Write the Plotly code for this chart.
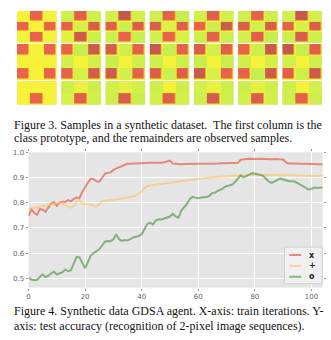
import plotly.graph_objects as go

W, H = 331, 340

# ---------------- accuracy curves ----------------
iterations = list(range(105))

acc_x = [
    0.747, 0.773, 0.760, 0.752, 0.775, 0.772, 0.764, 0.780, 0.797, 0.802,
    0.788, 0.800, 0.804, 0.803, 0.810, 0.805, 0.815, 0.820, 0.818, 0.842,
    0.862, 0.880, 0.895, 0.893, 0.885, 0.883, 0.898, 0.915, 0.918, 0.920,
    0.930, 0.935, 0.940, 0.945, 0.952, 0.955, 0.954, 0.955, 0.954, 0.955,
    0.955, 0.956, 0.957, 0.958, 0.958, 0.958, 0.957, 0.958, 0.960, 0.964,
    0.967, 0.955, 0.953, 0.953, 0.952, 0.953, 0.953, 0.953, 0.954, 0.954,
    0.954, 0.954, 0.955, 0.955, 0.955, 0.955, 0.955, 0.955, 0.956, 0.956,
    0.956, 0.956, 0.957, 0.957, 0.958, 0.970, 0.973, 0.973, 0.974, 0.973,
    0.973, 0.973, 0.974, 0.973, 0.973, 0.973, 0.972, 0.973, 0.972, 0.972,
    0.971, 0.960, 0.955, 0.955, 0.955, 0.955, 0.954, 0.955, 0.955, 0.954,
    0.954, 0.954, 0.953, 0.953, 0.952,
]

acc_plus = [
    0.775, 0.778, 0.782, 0.780, 0.785, 0.788, 0.786, 0.790, 0.795, 0.792,
    0.798, 0.800, 0.795, 0.790, 0.782, 0.780, 0.788, 0.805, 0.810, 0.798,
    0.794, 0.792, 0.793, 0.787, 0.784, 0.795, 0.806, 0.808, 0.810, 0.812,
    0.812, 0.813, 0.815, 0.814, 0.818, 0.820, 0.822, 0.825, 0.828, 0.835,
    0.845, 0.860, 0.866, 0.868, 0.870, 0.872, 0.874, 0.875, 0.876, 0.878,
    0.879, 0.880, 0.882, 0.885, 0.887, 0.889, 0.890, 0.890, 0.891, 0.892,
    0.894, 0.896, 0.898, 0.899, 0.900, 0.901, 0.902, 0.903, 0.904, 0.905,
    0.906, 0.906, 0.907, 0.907, 0.908, 0.908, 0.909, 0.909, 0.910, 0.910,
    0.910, 0.910, 0.911, 0.911, 0.910, 0.910, 0.911, 0.910, 0.910, 0.910,
    0.910, 0.910, 0.909, 0.909, 0.909, 0.908, 0.908, 0.908, 0.908, 0.907,
    0.907, 0.907, 0.906, 0.906, 0.906,
]

acc_o = [
    0.503, 0.495, 0.492, 0.494, 0.505, 0.515, 0.505, 0.510, 0.520, 0.526,
    0.515, 0.520, 0.524, 0.535, 0.528, 0.532, 0.560, 0.585, 0.583, 0.560,
    0.540, 0.565, 0.590, 0.600, 0.608, 0.615, 0.630, 0.645, 0.648, 0.647,
    0.655, 0.675, 0.655, 0.648, 0.652, 0.650, 0.655, 0.662, 0.665, 0.668,
    0.675, 0.695, 0.716, 0.720, 0.714, 0.730, 0.734, 0.733, 0.738, 0.742,
    0.745, 0.756, 0.745, 0.740, 0.768, 0.782, 0.795, 0.815, 0.823, 0.820,
    0.818, 0.820, 0.822, 0.822, 0.828, 0.838, 0.840, 0.848, 0.852, 0.860,
    0.866, 0.868, 0.872, 0.882, 0.895, 0.908, 0.900, 0.906, 0.914, 0.917,
    0.916, 0.914, 0.910, 0.905, 0.895, 0.883, 0.878, 0.885, 0.890, 0.896,
    0.892, 0.888, 0.886, 0.885, 0.884, 0.878, 0.872, 0.866, 0.860, 0.852,
    0.855, 0.860, 0.858, 0.860, 0.860,
]

series_names = ["x", "+", "o"]
series_colors = ["rgba(226,74,51,0.6)", "rgba(251,193,94,0.6)", "rgba(80,150,70,0.66)"]

x_ticks = [0, 20, 40, 60, 80, 100]
y_ticks = [0.5, 0.6, 0.7, 0.8, 0.9, 1.0]
y_tick_text = ["0.5", "0.6", "0.7", "0.8", "0.9", "1.0"]

# ---------------- synthetic image samples ----------------
# three frames per sample: 3x3, 3x3 and the visible top two rows of the last one
frame_rows = [3, 3, 2]
red_cells = [
    [(0, 1), (1, 0), (1, 2), (2, 1)],
    [(0, 0), (0, 2), (2, 0), (2, 2)],
    [(1, 1)],
]
# greenness of the background cells (0 = yellow, 9 = lime), 8 rows x 3 columns
tint = [
    ["000", "000", "101", "000", "000", "000", "000", "000"],
    ["707", "050", "307", "080", "606", "050", "727", "506"],
    ["606", "070", "708", "070", "807", "060", "636", "708"],
    ["708", "040", "605", "080", "707", "070", "707", "606"],
    ["606", "070", "707", "060", "808", "050", "627", "707"],
    ["707", "060", "608", "070", "706", "080", "737", "606"],
    ["606", "050", "707", "080", "607", "070", "706", "707"],
]
# shade of each red cell (0 = bright, 9 = dark), in frame order
red_tone = [
    "111111111",
    "325717263",
    "934162725",
    "253182433",
    "317243816",
    "254318274",
    "824593372",
]

sample_left, sample_step, sample_width = 15.0, 44.5, 40.0
frame_spans = [(7.0, 39.5), (40.5, 77.0), (78.0, 102.0)]


def px(x):
    return x / W


def py(y):
    return 1 - y / H


fig = go.Figure()
layout_axes = {}

axis_id = 2
for s in range(len(tint)):
    left = sample_left + s * sample_step
    row_start = 0
    red_index = 0
    for f, (top, bottom) in enumerate(frame_spans):
        n = frame_rows[f]
        bg = [[int(c) for c in row] for row in tint[s][row_start:row_start + n]]
        red = [[None] * 3 for _ in range(n)]
        for (r, c) in red_cells[f]:
            red[r][c] = int(red_tone[s][red_index])
            red_index += 1
        row_start += n
        xa, ya = f"x{axis_id}", f"y{axis_id}"
        fig.add_trace(go.Heatmap(
            z=bg, xaxis=xa, yaxis=ya, zmin=0, zmax=9, showscale=False,
            colorscale=[[0, "#f6f23a"], [1, "#c2ee50"]], hoverinfo="skip",
        ))
        fig.add_trace(go.Heatmap(
            z=red, xaxis=xa, yaxis=ya, zmin=0, zmax=9, showscale=False,
            colorscale=[[0, "#f0634a"], [1, "#c4584a"]], xgap=1.5, ygap=1.5,
            hoverinfo="skip",
        ))
        layout_axes[f"xaxis{axis_id}"] = dict(
            domain=[px(left), px(left + sample_width)], range=[-0.5, 2.5],
            visible=False, anchor=ya, fixedrange=True,
        )
        layout_axes[f"yaxis{axis_id}"] = dict(
            domain=[py(bottom), py(top)], range=[n - 0.5, -0.5],
            visible=False, anchor=xa, fixedrange=True,
        )
        axis_id += 1

# ---------------- accuracy chart ----------------
for name, color, ys in zip(series_names, series_colors, [acc_x, acc_plus, acc_o]):
    fig.add_trace(go.Scatter(
        x=iterations, y=ys, name=name, mode="lines", showlegend=False,
        line=dict(color=color, width=2), xaxis="x", yaxis="y",
    ))

tick_font = dict(family="DejaVu Sans", size=7, color="#666666")
fig.update_layout(
    width=W, height=H,
    margin=dict(l=0, r=0, t=0, b=0),
    paper_bgcolor="white",
    plot_bgcolor="#e5e5e5",
    xaxis=dict(
        domain=[px(26.7), px(322.7)], range=[0, 104], anchor="y",
        tickvals=x_ticks, ticktext=[str(v) for v in x_ticks],
        showgrid=True, gridcolor="white", gridwidth=1, zeroline=False,
        ticks="outside", ticklen=2, tickcolor="#999999", mirror="ticks",
        tickfont=tick_font,
    ),
    yaxis=dict(
        domain=[py(287), py(150)], range=[0.463, 1.0], anchor="x",
        tickvals=y_ticks, ticktext=y_tick_text,
        showgrid=True, gridcolor="white", gridwidth=1, zeroline=False,
        ticks="outside", ticklen=2, tickcolor="#999999", mirror="ticks",
        tickfont=tick_font,
    ),
    **layout_axes,
)

# compact legend box in the lower-right corner of the chart
legend_box = dict(x0=284, x1=322, y0=246, y1=283)
legend_rows = [254, 265, 276]
fig.add_shape(
    type="rect", xref="paper", yref="paper",
    x0=px(legend_box["x0"]), x1=px(legend_box["x1"]),
    y0=py(legend_box["y1"]), y1=py(legend_box["y0"]),
    fillcolor="#f0f0f0", line=dict(color="#d0d0d0", width=1),
)
for name, color, yrow in zip(series_names, series_colors, legend_rows):
    fig.add_shape(
        type="line", xref="paper", yref="paper",
        x0=px(289), x1=px(301), y0=py(yrow), y1=py(yrow),
        line=dict(color=color, width=2),
    )
    fig.add_annotation(
        text=f"<b>{name}</b>", x=px(312), y=py(yrow), xref="paper", yref="paper",
        xanchor="center", yanchor="middle", showarrow=False,
        font=dict(family="DejaVu Sans", size=8, color="#222222"),
    )

caption_font = dict(family="Liberation Serif", size=12, color="#111111")
captions = [
    ("Figure 3. Samples in a synthetic dataset.  The first column is the", 122),
    ("class prototype, and the remainders are observed samples.", 136),
    ("Figure 4. Synthetic data GDSA agent. X-axis: train iterations. Y-", 311),
    ("axis: test accuracy (recognition of 2-pixel image sequences).", 326),
]
for text, y in captions:
    fig.add_annotation(
        text=text, x=px(10), y=py(y), xref="paper", yref="paper",
        xanchor="left", yanchor="middle", showarrow=False, font=caption_font,
    )

fig.write_html("out.html")
